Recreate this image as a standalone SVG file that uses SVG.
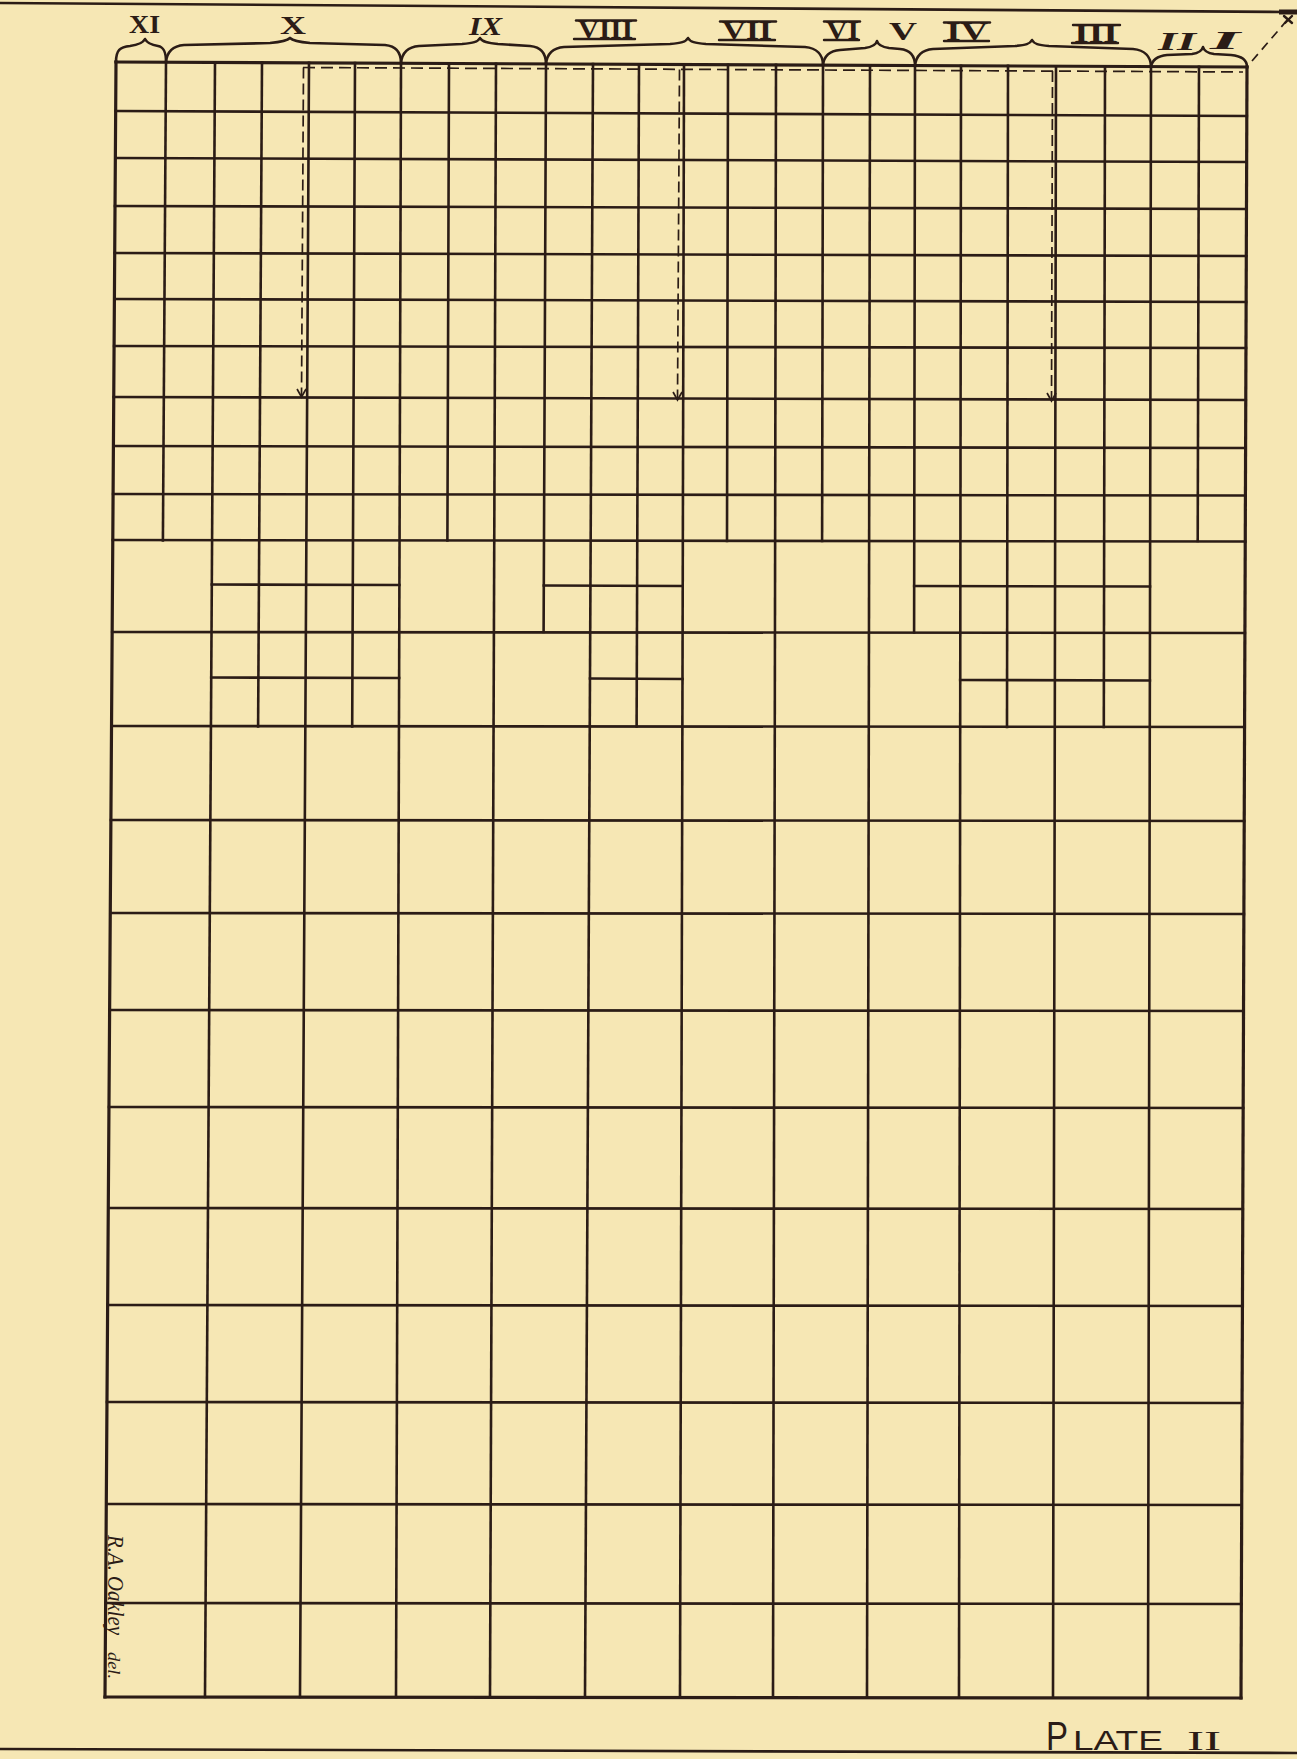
<svg xmlns="http://www.w3.org/2000/svg" width="1297" height="1759" viewBox="0 0 1297 1759">
<style>
.ink{stroke:#2b1c16;fill:none;stroke-linecap:square}
.g{stroke-width:2.6}
.o{stroke-width:3.2}
.dh{stroke:#2b1c16;stroke-width:1.7;fill:none;stroke-dasharray:12 6}
.dv{stroke:#2b1c16;stroke-width:1.7;fill:none;stroke-dasharray:11 5}
.br{stroke:#2b1c16;stroke-width:2.6;fill:none;stroke-linejoin:round;stroke-linecap:round}
.lab{font-family:"Liberation Serif",serif;font-weight:bold;font-size:26px;fill:#2b1c16}
.it{font-style:italic}
.bar{stroke:#2b1c16;stroke-width:2.4;stroke-linecap:round}
.rule{stroke:#2b1c16;stroke-width:2.6}
</style>
<defs>
<marker id="ah" markerUnits="userSpaceOnUse" markerWidth="12" markerHeight="12" viewBox="-10 -6 12 12" refX="0" refY="0" orient="auto">
<path d="M-8,-4.5 L0,0 L-8,4.5" fill="none" stroke="#2b1c16" stroke-width="1.7"/>
</marker>
</defs>
<rect width="1297" height="1759" fill="#f6e7b4"/>

<g id="rules">
<line class="rule" x1="0" y1="3" x2="1285" y2="12"/>
<line class="rule" x1="0" y1="1749" x2="1297" y2="1753"/>
<rect x="1279" y="9.5" width="18" height="5" fill="#2b1c16"/>
<line class="bar" x1="1284" y1="16" x2="1292" y2="23"/>
<line class="bar" x1="1292" y1="16" x2="1285" y2="23"/>
</g>

<g id="grid" class="ink">
<g class="o">
<line x1="116" y1="62" x2="105" y2="1697"/>
<line x1="1247" y1="67" x2="1241" y2="1698"/>
<line x1="116" y1="62" x2="1247" y2="67"/>
<line x1="105" y1="1697" x2="1241" y2="1698"/>
</g>
<g class="g">
<line x1="215" y1="62.4" x2="205" y2="1697"/>
<line x1="309" y1="62.9" x2="300" y2="1697"/>
<line x1="401" y1="63.3" x2="396" y2="1697"/>
<line x1="496" y1="63.7" x2="490" y2="1697"/>
<line x1="593" y1="64.1" x2="585" y2="1697"/>
<line x1="684" y1="64.5" x2="680" y2="1697"/>
<line x1="776" y1="64.9" x2="773" y2="1697.5"/>
<line x1="870" y1="65.3" x2="867" y2="1697.5"/>
<line x1="961" y1="65.7" x2="959" y2="1697.5"/>
<line x1="1056" y1="66.2" x2="1053" y2="1697.5"/>
<line x1="1151" y1="66.6" x2="1148" y2="1698"/>
<line x1="166" y1="62.2" x2="162.9" y2="540.5"/>
<line x1="262" y1="62.6" x2="258.1" y2="726.5"/>
<line x1="355" y1="63.1" x2="352.2" y2="726.5"/>
<line x1="449" y1="63.5" x2="447.4" y2="540.5"/>
<line x1="546" y1="63.9" x2="543.6" y2="632"/>
<line x1="639" y1="64.3" x2="636.6" y2="726.5"/>
<line x1="728" y1="64.7" x2="727" y2="541"/>
<line x1="823" y1="65.1" x2="822.1" y2="541"/>
<line x1="915" y1="65.5" x2="914.1" y2="632.5"/>
<line x1="1008" y1="65.9" x2="1007" y2="727"/>
<line x1="1105" y1="66.4" x2="1103.8" y2="727"/>
<line x1="1199" y1="66.8" x2="1197.7" y2="541"/>
<line x1="115.7" y1="111" x2="1246.8" y2="116"/>
<line x1="115.4" y1="158" x2="1246.6" y2="162"/>
<line x1="115" y1="206" x2="1246.5" y2="209"/>
<line x1="114.7" y1="253" x2="1246.3" y2="256"/>
<line x1="114.4" y1="299" x2="1246.1" y2="302"/>
<line x1="114.1" y1="346" x2="1246" y2="348"/>
<line x1="113.7" y1="397" x2="1245.8" y2="400"/>
<line x1="113.4" y1="446" x2="1245.6" y2="448"/>
<line x1="113.1" y1="494" x2="1245.4" y2="495.5"/>
<line x1="112.8" y1="540" x2="1245.2" y2="541.5"/>
<line x1="112.2" y1="632" x2="1244.9" y2="633"/>
<line x1="111.5" y1="726" x2="1244.6" y2="727"/>
<line x1="110.9" y1="820" x2="1244.2" y2="821"/>
<line x1="110.3" y1="913" x2="1243.9" y2="914"/>
<line x1="109.6" y1="1010" x2="1243.5" y2="1011"/>
<line x1="109" y1="1107" x2="1243.2" y2="1108"/>
<line x1="108.3" y1="1208" x2="1242.8" y2="1209"/>
<line x1="107.6" y1="1305" x2="1242.4" y2="1306"/>
<line x1="107" y1="1402" x2="1242.1" y2="1403"/>
<line x1="106.3" y1="1504" x2="1241.7" y2="1505"/>
<line x1="105.6" y1="1603" x2="1241.3" y2="1604"/>
<line x1="211.8" y1="584.5" x2="399.4" y2="585"/>
<line x1="543.8" y1="585.5" x2="682.7" y2="586"/>
<line x1="914.2" y1="586" x2="1150" y2="586.5"/>
<line x1="211.2" y1="677.5" x2="399.1" y2="678"/>
<line x1="590" y1="678.5" x2="682.5" y2="679"/>
<line x1="960.2" y1="680" x2="1149.9" y2="680.5"/>
</g>
</g>

<g id="connectors">
<line class="dh" x1="303" y1="67.5" x2="1243" y2="72"/>
<line class="dv" x1="303.5" y1="67.5" x2="301.5" y2="397" marker-end="url(#ah)"/>
<line class="dv" x1="679.5" y1="69.5" x2="677.5" y2="400" marker-end="url(#ah)"/>
<line class="dv" x1="1052.5" y1="71" x2="1051.5" y2="401" marker-end="url(#ah)"/>
<line class="dh" style="stroke-dasharray:9 6" x1="1252" y1="61" x2="1289" y2="18"/>
</g>

<g id="braces">
<path class="br" d="M116,62 C116,50 120,47 130,46 C138,45 143,43 145,39 C147,43 152,45 158,46 C164,47 166,52 166,62"/>
<path class="br" d="M166,62 C167,52 172,46 184,45 L270,43 C281,42 287,41 290,38 C293,41 299,42 310,43 L385,45 C396,46 401,52 401,63"/>
<path class="br" d="M401,63 C402,53 407,47 419,46 L462,44 C473,43 478,42 480,38 C482,42 488,43 498,44 L530,46 C541,47 546,53 546,64"/>
<path class="br" d="M546,64 C547,54 552,48 564,47 L670,44 C681,43 686,42 688,38 C690,42 695,43 706,44 L805,47 C817,48 823,55 823,65"/>
<path class="br" d="M823,65 C824,56 829,51 840,50 L865,48 C872,47 876,45 877,41 C878,45 882,47 889,48 L900,49 C911,50 915,56 915,66"/>
<path class="br" d="M915,66 C916,56 921,50 933,49 L1015,46 C1026,45 1030,44 1032,40 C1034,44 1038,45 1049,46 L1133,49 C1145,50 1151,57 1151,67"/>
<path class="br" d="M1151,67 C1152,60 1157,56 1167,55 L1192,54 C1199,53 1202,51 1203,47 C1204,51 1207,53 1214,54 L1231,55 C1242,56 1247,60 1247,67"/>
</g>

<g id="labels">
<g id="label-XI"><text class="lab" x="129" y="33" textLength="31" lengthAdjust="spacingAndGlyphs">XI</text></g>
<g id="label-X"><text class="lab" x="280" y="34" textLength="26" lengthAdjust="spacingAndGlyphs">X</text></g>
<g id="label-IX"><text class="lab it" x="469" y="35" textLength="33" lengthAdjust="spacingAndGlyphs">IX</text></g>
<g id="label-VIII"><text class="lab" x="578" y="38" textLength="55" lengthAdjust="spacingAndGlyphs">VIII</text>
<line class="bar" x1="576" y1="20.5" x2="636" y2="20.5"/><line class="bar" x1="574" y1="39" x2="635" y2="39"/></g>
<g id="label-VII"><text class="lab" x="722" y="39" textLength="50" lengthAdjust="spacingAndGlyphs">VII</text>
<line class="bar" x1="720" y1="21.5" x2="776" y2="21.5"/><line class="bar" x1="719" y1="40" x2="775" y2="40"/></g>
<g id="label-VI"><text class="lab" x="826" y="39" textLength="33" lengthAdjust="spacingAndGlyphs">VI</text>
<line class="bar" x1="824" y1="21.5" x2="860" y2="21.5"/><line class="bar" x1="824" y1="40" x2="859" y2="40"/></g>
<g id="label-V"><text class="lab" x="889" y="40" textLength="28" lengthAdjust="spacingAndGlyphs">V</text></g>
<g id="label-IV"><text class="lab" x="946" y="40" textLength="42" lengthAdjust="spacingAndGlyphs">IV</text>
<line class="bar" x1="944" y1="22.5" x2="990" y2="22.5"/><line class="bar" x1="944" y1="41" x2="989" y2="41"/></g>
<g id="label-III"><text class="lab" x="1074" y="42" textLength="44" lengthAdjust="spacingAndGlyphs">III</text>
<line class="bar" x1="1073" y1="25" x2="1120" y2="25"/><line class="bar" x1="1072" y1="43" x2="1118" y2="43"/></g>
<g id="label-II"><text class="lab it" x="1158" y="50" textLength="38" lengthAdjust="spacingAndGlyphs">II</text></g>
<g id="label-I"><text class="lab it" x="1210" y="49" textLength="30" lengthAdjust="spacingAndGlyphs">I</text></g>
</g>

<g id="signature" fill="#2b1c16">
<text transform="translate(108,1535) rotate(90)" font-family="Liberation Serif, serif" font-style="italic" font-size="23" textLength="100" lengthAdjust="spacingAndGlyphs">R.A. Oakley</text>
<text transform="translate(108,1652) rotate(90)" font-family="Liberation Serif, serif" font-style="italic" font-size="16" textLength="27" lengthAdjust="spacingAndGlyphs">del.</text>
</g>

<g id="plate-title" fill="#2b1c16">
<text x="1046" y="1750" font-family="Liberation Sans, sans-serif" font-size="40" textLength="22" lengthAdjust="spacingAndGlyphs">P</text>
<text x="1073" y="1750" font-family="Liberation Sans, sans-serif" font-size="27" textLength="90" lengthAdjust="spacingAndGlyphs">LATE</text>
<text x="1187" y="1750" font-family="Liberation Serif, serif" font-size="28" textLength="34" lengthAdjust="spacingAndGlyphs">II</text>
</g>
</svg>
